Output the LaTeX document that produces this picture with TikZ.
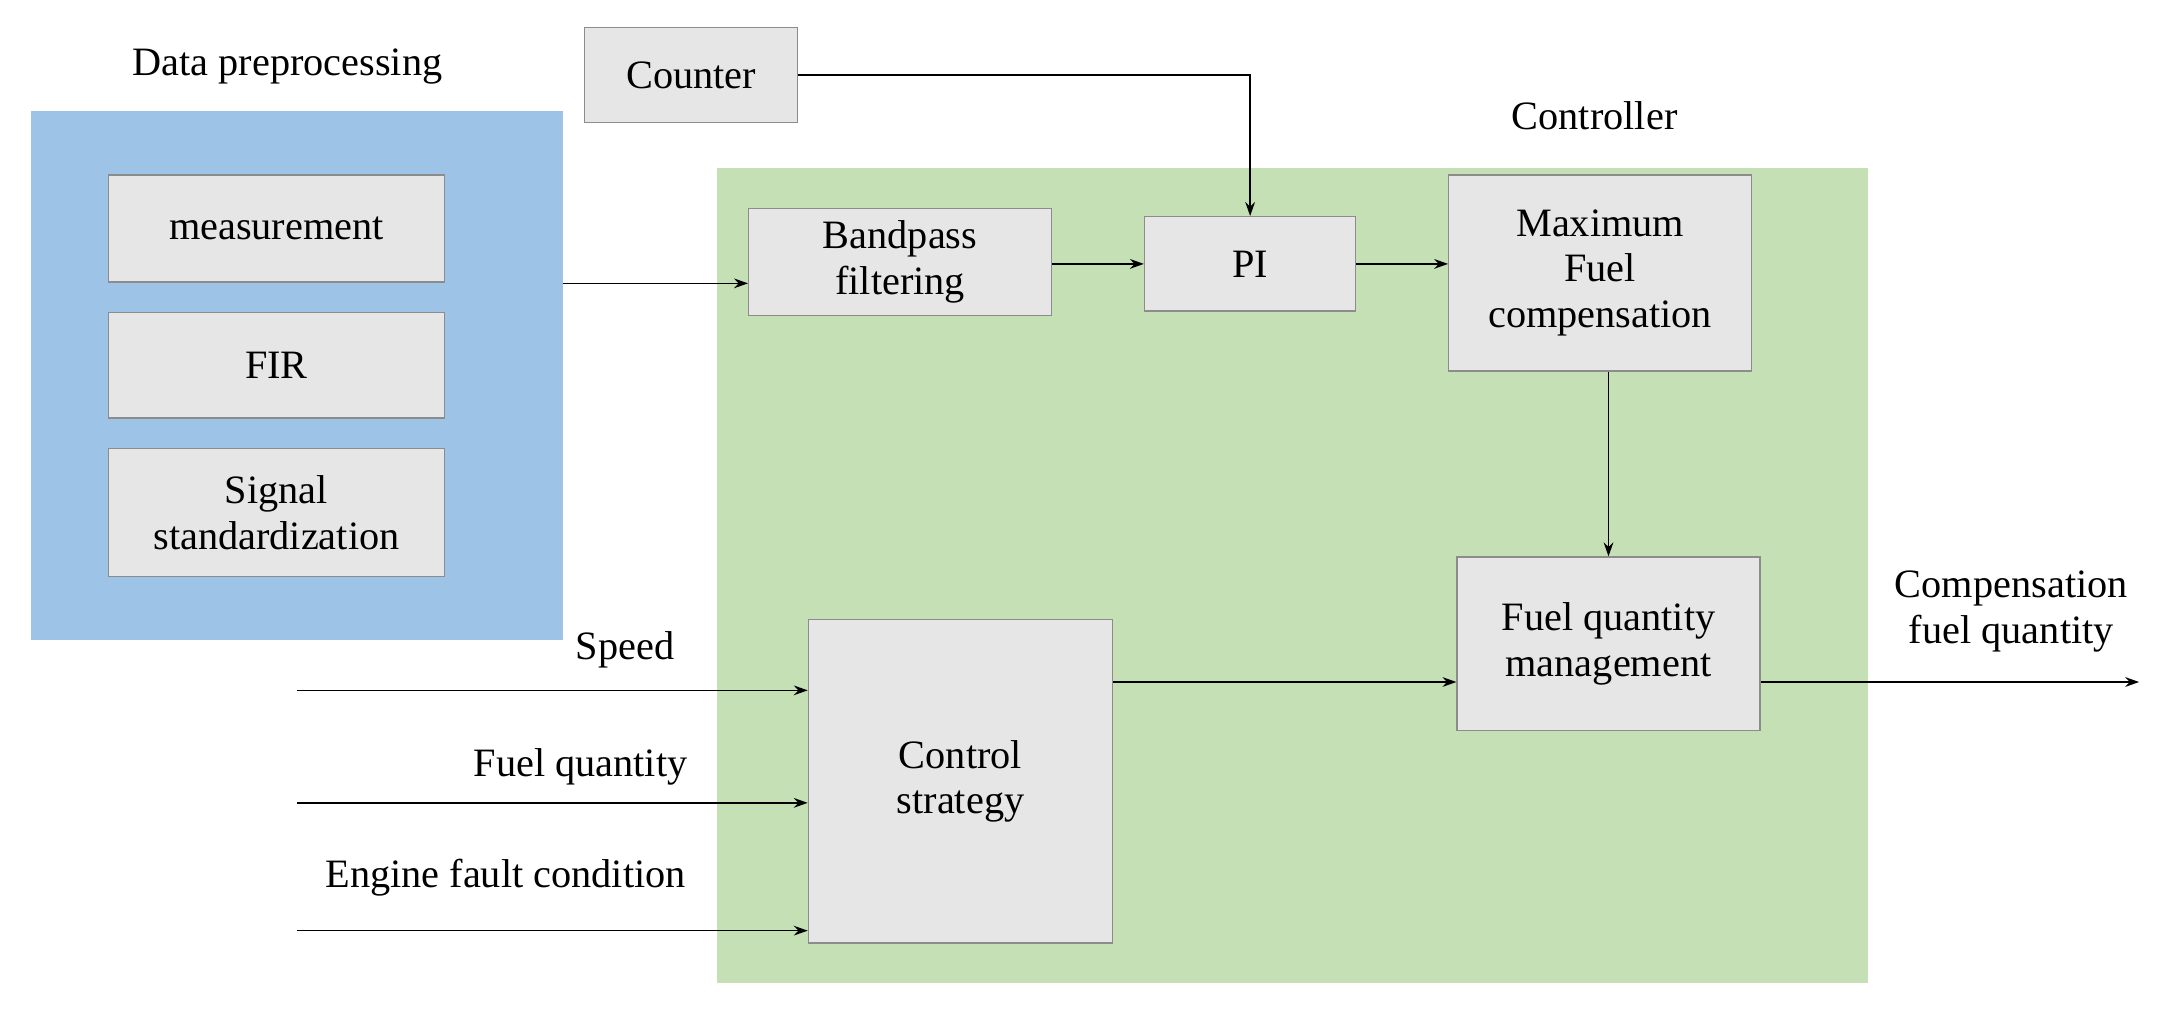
\documentclass[tikz,border=0pt]{standalone}
\usepackage{fontspec}
\setmainfont{Liberation Serif}
\usetikzlibrary{arrows.meta}
\definecolor{bluebg}{HTML}{9DC3E6}
\definecolor{greenbg}{HTML}{C5E0B4}
\definecolor{boxfill}{HTML}{E7E6E6}
\definecolor{boxline}{HTML}{8C8C8C}
\begin{document}
\begin{tikzpicture}[x=0.5pt,y=-0.5pt,
  every node/.style={font=\fontsize{14.5}{16.5}\selectfont},
  blk/.style={draw=boxline,fill=boxfill,line width=0.5pt,align=center,inner sep=0pt},
  arr/.style={-{Stealth[length=5pt,width=3.5pt]},line width=0.6pt}]
\useasboundingbox (0,0) rectangle (1568,731);
\fill[bluebg] (22,80) rectangle (405,461);
\fill[greenbg] (516,121) rectangle (1345,708);
\node (dp) at (207,48) {Data preprocessing};
\node (ct) at (1148,83) {Controller};
\node[blk,minimum width=121pt,minimum height=38.5pt] (meas) at (199,164.5) {measurement};
\node[blk,minimum width=121pt,minimum height=38pt] (fir) at (199,263) {FIR};
\node[blk,minimum width=121pt,minimum height=46pt] (sig) at (199,369) {Signal\\standardization};
\node[blk,minimum width=76.5pt,minimum height=34pt] (cnt) at (497.5,54) {Counter};
\node[blk,minimum width=109pt,minimum height=38.5pt] (bp) at (648,188.5) {Bandpass\\filtering};
\node[blk,minimum width=76pt,minimum height=34pt] (pi) at (900,190) {PI};
\node[blk,minimum width=109pt,minimum height=70.5pt] (max) at (1152,196.5) {Maximum\\Fuel\\compensation};
\node[blk,minimum width=109pt,minimum height=62.5pt] (fqm) at (1158,463.5) {Fuel quantity\\management};
\node[blk,minimum width=109.5pt,minimum height=116.5pt] (cs) at (691.5,562.5) {Control\\strategy};
\coordinate (bo) at (405,204);
\draw[arr] (bo) -- (bo -| bp.west);
\draw[arr] (bp.east |- pi) -- (pi.west);
\draw[arr] (pi.east) -- (pi.east -| max.west);
\draw[arr] (cnt.east) -| (pi.north);
\draw[arr] (max.south -| 1158,0) -- (fqm.north);
\draw[arr] (cs.east |- 0,491) -- (fqm.west |- 0,491);
\coordinate (out) at (1540,491);
\draw[arr] (fqm.east |- out) -- (out);
\node[align=center] (cfq) at (1448,440) {Compensation\\fuel quantity};
\coordinate (i1) at (214,497);
\coordinate (i2) at (214,578);
\coordinate (i3) at (214,670);
\draw[arr] (i1) -- (i1 -| cs.west);
\draw[arr] (i2) -- (i2 -| cs.west);
\draw[arr] (i3) -- (i3 -| cs.west);
\node (sp) at (450,468) {Speed};
\node (fq) at (418,552) {Fuel quantity};
\node (ef) at (364,632) {Engine fault condition};
\end{tikzpicture}
\end{document}
